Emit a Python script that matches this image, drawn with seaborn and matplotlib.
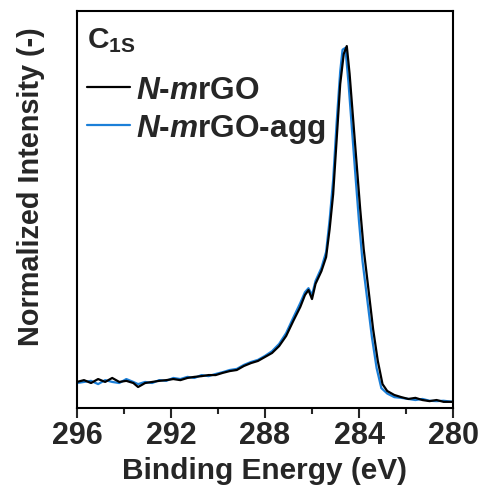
import matplotlib
matplotlib.use("Agg")
import matplotlib.pyplot as plt
import seaborn as sns
import pandas as pd
from matplotlib.ticker import MultipleLocator

# Binding energy (eV) and normalized intensity
be_black = [296.0, 295.7, 295.4, 295.1, 294.8, 294.5, 294.2, 293.9, 293.6, 293.4,
            293.1, 292.8, 292.5, 292.2, 291.9, 291.6, 291.3, 291.0, 290.7, 290.4,
            290.1, 289.8, 289.5, 289.2, 288.9, 288.6, 288.3, 288.0, 287.7, 287.4,
            287.1, 286.8, 286.5, 286.3, 286.15, 286.0, 285.85, 285.6, 285.4, 285.25,
            285.1, 284.95, 284.8, 284.65, 284.52, 284.4, 284.25, 284.1, 283.95, 283.8,
            283.6, 283.4, 283.2, 283.0, 282.8, 282.5, 282.2, 281.9, 281.6, 281.3,
            281.0, 280.7, 280.4, 280.0]
int_black = [0.072, 0.077, 0.069, 0.080, 0.072, 0.083, 0.072, 0.075, 0.069, 0.058,
             0.069, 0.072, 0.075, 0.077, 0.080, 0.077, 0.083, 0.086, 0.088, 0.091,
             0.091, 0.097, 0.102, 0.105, 0.116, 0.124, 0.130, 0.141, 0.152, 0.171,
             0.199, 0.240, 0.279, 0.312, 0.326, 0.301, 0.343, 0.378, 0.417, 0.494,
             0.591, 0.743, 0.895, 0.978, 1.000, 0.923, 0.798, 0.674, 0.550, 0.439,
             0.329, 0.218, 0.130, 0.066, 0.047, 0.036, 0.030, 0.025, 0.028, 0.022,
             0.019, 0.022, 0.017, 0.017]

be_blue = [296.0, 295.7, 295.4, 295.1, 294.8, 294.5, 294.2, 293.9, 293.6, 293.4,
           293.1, 292.8, 292.5, 292.2, 291.9, 291.6, 291.3, 291.0, 290.7, 290.4,
           290.1, 289.8, 289.5, 289.2, 288.9, 288.6, 288.3, 288.0, 287.7, 287.4,
           287.1, 286.8, 286.5, 286.3, 286.15, 286.0, 285.85, 285.6, 285.4, 285.25,
           285.1, 284.95, 284.8, 284.7, 284.58, 284.45, 284.3, 284.15, 284.0, 283.85,
           283.65, 283.45, 283.25, 283.05, 282.8, 282.5, 282.2, 281.9, 281.6, 281.3,
           281.0, 280.7, 280.4, 280.0]
int_blue = [0.069, 0.072, 0.075, 0.066, 0.077, 0.072, 0.069, 0.080, 0.072, 0.066,
            0.072, 0.069, 0.077, 0.075, 0.083, 0.080, 0.086, 0.083, 0.091, 0.088,
            0.094, 0.099, 0.105, 0.108, 0.119, 0.127, 0.133, 0.144, 0.157, 0.177,
            0.207, 0.249, 0.290, 0.320, 0.331, 0.312, 0.351, 0.387, 0.431, 0.520,
            0.630, 0.790, 0.930, 0.990, 0.995, 0.900, 0.770, 0.640, 0.515, 0.405,
            0.300, 0.195, 0.110, 0.055, 0.040, 0.030, 0.028, 0.025, 0.022, 0.025,
            0.020, 0.019, 0.020, 0.017]

label_black = "$N$-$m$rGO"
label_blue = "$N$-$m$rGO-agg"
x_ticks = [296, 292, 288, 284, 280]

sns.set_style("white")
plt.rcParams['font.family'] = ['Liberation Sans', 'DejaVu Sans']
plt.rcParams['font.weight'] = 'bold'
plt.rcParams['mathtext.fontset'] = 'custom'
plt.rcParams['mathtext.it'] = 'Liberation Sans:italic:bold'
plt.rcParams['mathtext.rm'] = 'Liberation Sans:bold'
plt.rcParams['mathtext.bf'] = 'Liberation Sans:bold'

fig = plt.figure(figsize=(4.84, 4.89), dpi=100)
ax = fig.add_axes([0.159, 0.1636, 0.777, 0.812])

df_b = pd.DataFrame({"be": be_black, "I": int_black})
df_a = pd.DataFrame({"be": be_blue, "I": int_blue})
sns.lineplot(data=df_b, x="be", y="I", color="black", lw=1.6, sort=False,
             ax=ax, label=label_black, zorder=3)
sns.lineplot(data=df_a, x="be", y="I", color="#1b7fd8", lw=1.6, sort=False,
             ax=ax, label=label_blue, zorder=2)

ax.set_xlim(296, 280)
ax.set_ylim(0, 1.097)
ax.set_xticks(x_ticks)
ax.set_xticklabels([str(t) for t in x_ticks])
ax.xaxis.set_minor_locator(MultipleLocator(2))
ax.set_yticks([])
ax.tick_params(axis='x', which='major', direction='out', length=7, width=1.5,
               labelsize=22, pad=2, bottom=True)
ax.tick_params(axis='x', which='minor', direction='out', length=4.5, width=1.5,
               bottom=True)
for s in ax.spines.values():
    s.set_linewidth(1.5)
    s.set_color('black')

ax.set_xlabel("Binding Energy (eV)", fontsize=21.5, fontweight='bold', labelpad=4)
ax.set_ylabel("Normalized Intensity (-)", fontsize=20.8, fontweight='bold')
ax.yaxis.set_label_coords(-0.085, 0.56)

ax.text(0.028, 0.965, r"C$_{\mathregular{1S}}$", transform=ax.transAxes,
        fontsize=21.5, fontweight='bold', va='top', ha='left')

handles, labels = ax.get_legend_handles_labels()
leg = ax.legend(handles[:2], labels[:2], loc='upper left',
                bbox_to_anchor=(-0.008, 0.87), frameon=False,
                fontsize=22.8, handlelength=1.36, handletextpad=0.2,
                labelspacing=0.22, borderaxespad=0)

fig.savefig("out.png", dpi=100)
